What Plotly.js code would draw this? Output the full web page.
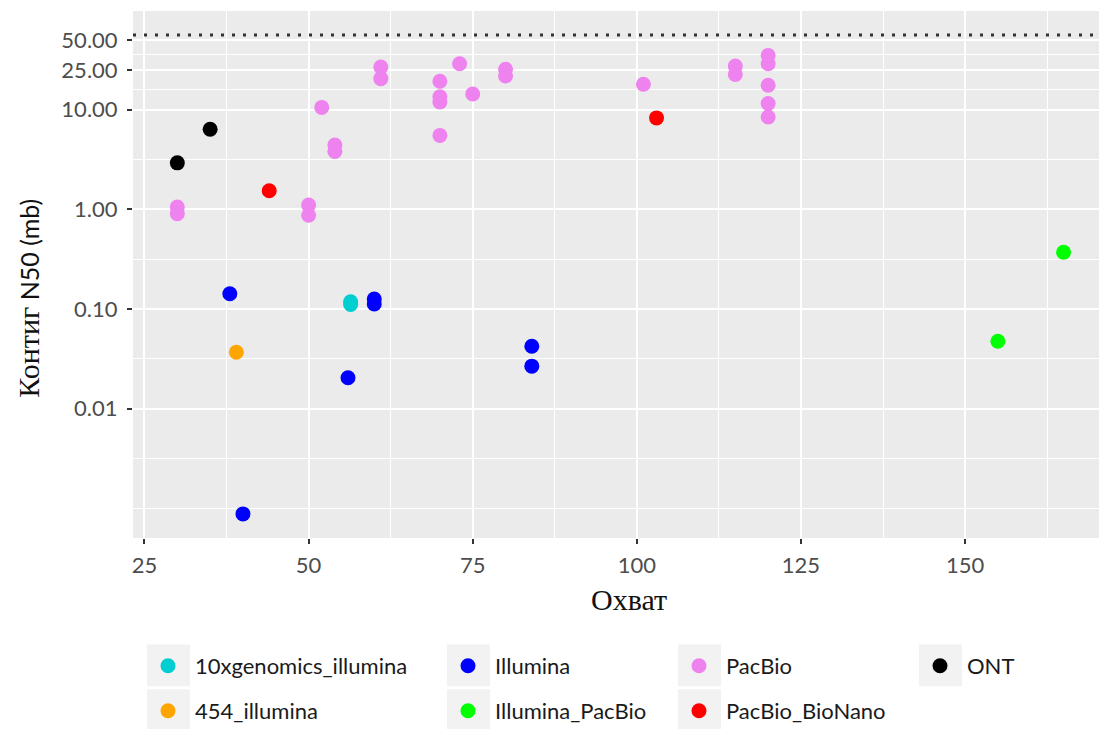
<!DOCTYPE html>
<html>
<head>
<meta charset="utf-8">
<script src="https://cdn.plot.ly/plotly-3.0.1.min.js"></script>
<style>html,body{margin:0;padding:0;background:#fff;}#chart{width:1099px;height:729px;}</style>
</head>
<body>
<div id="chart"></div>
<script>
// ---- data ----
const groupNames = ["10xgenomics_illumina", "Illumina", "PacBio", "ONT", "454_illumina", "Illumina_PacBio", "PacBio_BioNano"];
const groupColors = ["#00CED1", "#0000FF", "#EE82EE", "#000000", "#FFA500", "#00FF00", "#FF0000"];

const tenxCoverage = [56.4, 56.4];
const tenxN50 = [0.118, 0.111];

const illuminaCoverage = [38, 40, 56, 60, 60, 84, 84];
const illuminaN50 = [0.142, 0.00088, 0.0204, 0.126, 0.112, 0.0423, 0.0267];

const pacbioCoverage = [30, 30, 50, 50, 52, 54, 54, 61, 61, 70, 70, 70, 70, 73, 75, 80, 80, 101, 115, 115, 120, 120, 120, 120, 120];
const pacbioN50 = [1.05, 0.9, 1.1, 0.87, 10.5, 4.4, 3.8, 26.7, 20.4, 19.2, 13.4, 11.9, 5.5, 28.8, 14.3, 25.3, 21.7, 17.9, 27.3, 22.5, 34.9, 28.8, 17.5, 11.5, 8.4];

const ontCoverage = [30, 35];
const ontN50 = [2.92, 6.35];

const f454Coverage = [39];
const f454N50 = [0.0368];

const illPacCoverage = [155, 165];
const illPacN50 = [0.0474, 0.371];

const pacBioNanoCoverage = [44, 103];
const pacBioNanoN50 = [1.535, 8.24];

const thresholdN50 = 56;

const yTickVals = [0.01, 0.1, 1, 10, 25, 50];
const yTickText = ["0.01", "0.10", "1.00", "10.00", "25.00", "50.00"];
const xTickVals = [25, 50, 75, 100, 125, 150];

const xTitle = "Охват";
const yTitleSerif = "Контиг";
const yTitleSans = "N50 (mb)";

// ---- layout helpers ----
const W = 1099, H = 729;
const M = {l: 133, r: 0, t: 11, b: 190.5};
const PW = W - M.l - M.r, PH = H - M.t - M.b;
const px2x = p => (p - M.l) / PW;
const py2y = p => (H - M.b - p) / PH;

const seriesX = [tenxCoverage, illuminaCoverage, pacbioCoverage, ontCoverage, f454Coverage, illPacCoverage, pacBioNanoCoverage];
const seriesY = [tenxN50, illuminaN50, pacbioN50, ontN50, f454N50, illPacN50, pacBioNanoN50];

// legend slot positions (pixel), ggplot-like 4 columns x 2 rows
const legendCols = [147, 447, 678, 919];
const legendRows = [645, 690];
const slotOf = [[0,0],[1,0],[2,0],[3,0],[0,1],[1,1],[2,1]];

const traces = groupNames.map((name, i) => ({
  type: "scatter", mode: "markers", name: name,
  x: seriesX[i], y: seriesY[i],
  marker: {color: groupColors[i], size: 15, line: {width: 0}},
  legend: i === 0 ? "legend" : "legend" + (i + 1),
  hoverinfo: "x+y+name"
}));

// minor gridlines: midpoints (log space) between major breaks, extended one step beyond
const logB = yTickVals.map(v => Math.log10(v));
const ext = [logB[0] - (logB[1] - logB[0])].concat(logB);
const yMinor = [];
for (let i = 0; i < ext.length - 1; i++) { yMinor.push(Math.pow(10, ext[i])); yMinor.push(Math.pow(10, (ext[i] + ext[i+1]) / 2)); }

const shapes = [];
const legends = {};
slotOf.forEach((s, i) => {
  const bx = legendCols[s[0]], by = legendRows[s[1]];
  shapes.push({type: "rect", xref: "paper", yref: "paper", layer: "below",
    x0: px2x(bx), x1: px2x(bx + 43), y0: py2y(by), y1: py2y(by + 42),
    fillcolor: "#f2f2f2", line: {width: 0}});
  const key = i === 0 ? "legend" : "legend" + (i + 1);
  legends[key] = {
    x: (bx - 6) / W, y: 1 - (by + 21) / H, xref: "container", yref: "container",
    xanchor: "left", yanchor: "middle", orientation: "v",
    bgcolor: "rgba(0,0,0,0)", borderwidth: 0,
    font: {family: "Lato, 'Open Sans', sans-serif", size: 22, color: "#1a1a1a"},
    itemwidth: 44
  };
});
shapes.push({type: "line", xref: "paper", x0: 0, x1: 1, yref: "y", y0: thresholdN50, y1: thresholdN50,
  line: {color: "#333333", width: 3, dash: "3px,8px"}});

const tickFont = {family: "Lato, 'Open Sans', sans-serif", size: 22, color: "#4d4d4d"};

const layout = Object.assign({
  width: W, height: H,
  margin: {l: M.l, r: M.r, t: M.t, b: M.b, pad: 0, autoexpand: false},
  paper_bgcolor: "#ffffff", plot_bgcolor: "#ebebeb",
  showlegend: true,
  xaxis: {
    range: [23.25, 170.4], tickvals: xTickVals, ticks: "outside", ticklen: 5, tickwidth: 2, tickcolor: "#333333",
    ticklabelstandoff: 3,
    showgrid: true, gridcolor: "#ffffff", gridwidth: 2, zeroline: false, showline: false, automargin: false,
    tickfont: tickFont,
    minor: {tickmode: "linear", tick0: 12.5, dtick: 12.5, showgrid: true, gridcolor: "#ffffff", gridwidth: 1, ticks: ""},
    fixedrange: true
  },
  yaxis: {
    type: "log", range: [-3.297, 1.988], tickvals: yTickVals, ticktext: yTickText,
    ticks: "outside", ticklen: 5, tickwidth: 2, tickcolor: "#333333", automargin: false,
    ticklabelstandoff: 5,
    showgrid: true, gridcolor: "#ffffff", gridwidth: 2, zeroline: false, showline: false,
    tickfont: tickFont,
    minor: {tickmode: "array", tickvals: yMinor, showgrid: true, gridcolor: "#ffffff", gridwidth: 1, ticks: ""},
    fixedrange: true
  },
  shapes: shapes,
  annotations: [
    {xref: "paper", yref: "paper", x: px2x(629), y: py2y(600), xanchor: "center", yanchor: "middle",
     showarrow: false, text: xTitle, font: {family: "'Liberation Serif', serif", size: 30, color: "#111111"}},
    {xref: "paper", yref: "paper", x: px2x(29), y: py2y(299), xanchor: "center", yanchor: "middle",
     showarrow: false, textangle: -90,
     text: '<span style="font-family:Liberation Serif;font-size:30px">' + yTitleSerif + '</span> ' + yTitleSans,
     font: {family: "Lato, 'Open Sans', sans-serif", size: 25, color: "#111111"}}
  ]
}, legends);

Plotly.newPlot("chart", traces, layout, {displayModeBar: false, staticPlot: true});
</script>
</body>
</html>
